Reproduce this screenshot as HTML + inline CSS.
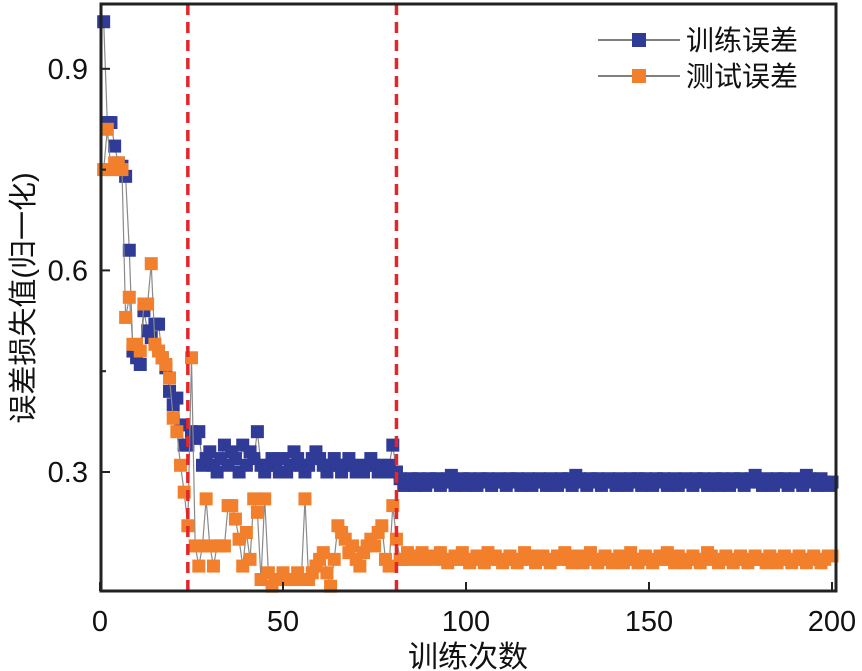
<!DOCTYPE html>
<html><head><meta charset="utf-8"><style>
html,body{margin:0;padding:0;background:#fff;}
svg{display:block;font-family:"Liberation Sans","Noto Sans CJK SC",sans-serif;}
</style></head><body>
<svg id="chart" width="862" height="671" viewBox="0 0 862 671" xmlns="http://www.w3.org/2000/svg"></svg>
<script>
const xTicks=[0,50,100,150,200];
const yTicks=[0.3,0.6,0.9];
const yMinorTicks=[0.45,0.75];
const stageLines=[24,81];
const trainErr=[0.97,0.82,0.82,0.785,0.76,0.755,0.74,0.63,0.48,0.47,
0.46,0.54,0.51,0.50,0.52,0.52,0.47,0.455,0.42,0.40,
0.41,0.37,0.34,0.34,0.36,0.35,0.36,0.31,0.32,0.33,
0.31,0.30,0.32,0.34,0.31,0.33,0.32,0.30,0.34,0.31,
0.33,0.32,0.36,0.31,0.30,0.31,0.32,0.31,0.30,0.32,
0.30,0.31,0.33,0.32,0.31,0.30,0.31,0.32,0.33,0.32,
0.31,0.30,0.31,0.32,0.31,0.30,0.31,0.32,0.31,0.30,
0.31,0.30,0.31,0.32,0.31,0.30,0.31,0.30,0.31,0.34,
0.30,0.29,0.28,0.285,0.29,0.28,0.29,0.285,0.28,0.29,
0.285,0.29,0.28,0.285,0.29,0.295,0.28,0.285,0.29,0.28,
0.29,0.285,0.28,0.29,0.285,0.29,0.28,0.285,0.29,0.285,
0.28,0.29,0.285,0.29,0.28,0.285,0.29,0.28,0.285,0.29,
0.285,0.28,0.29,0.285,0.28,0.29,0.285,0.29,0.28,0.295,
0.29,0.285,0.28,0.29,0.285,0.29,0.28,0.285,0.29,0.285,
0.28,0.29,0.285,0.28,0.29,0.285,0.29,0.28,0.29,0.285,
0.28,0.29,0.285,0.29,0.28,0.285,0.29,0.28,0.285,0.29,
0.285,0.28,0.29,0.285,0.29,0.28,0.285,0.29,0.28,0.29,
0.285,0.28,0.29,0.285,0.29,0.28,0.285,0.29,0.295,0.285,
0.28,0.29,0.285,0.28,0.29,0.285,0.29,0.28,0.285,0.29,
0.285,0.28,0.295,0.29,0.285,0.28,0.29,0.285,0.28,0.285];
const testErr=[0.75,0.81,0.75,0.76,0.76,0.75,0.53,0.56,0.49,0.49,
0.48,0.55,0.55,0.61,0.49,0.48,0.47,0.46,0.44,0.38,
0.36,0.31,0.27,0.22,0.47,0.19,0.16,0.19,0.26,0.19,
0.16,0.19,0.19,0.19,0.25,0.25,0.23,0.20,0.16,0.21,
0.17,0.26,0.24,0.14,0.26,0.15,0.13,0.14,0.14,0.15,
0.14,0.14,0.14,0.15,0.14,0.26,0.14,0.15,0.16,0.17,
0.18,0.15,0.13,0.17,0.22,0.21,0.20,0.18,0.19,0.17,
0.16,0.18,0.19,0.20,0.19,0.21,0.22,0.17,0.16,0.25,
0.20,0.17,0.17,0.18,0.17,0.175,0.17,0.18,0.17,0.175,
0.17,0.175,0.18,0.17,0.165,0.17,0.175,0.17,0.18,0.17,
0.165,0.17,0.175,0.17,0.165,0.18,0.17,0.175,0.17,0.165,
0.17,0.175,0.17,0.165,0.17,0.18,0.17,0.175,0.165,0.17,
0.175,0.17,0.165,0.17,0.175,0.17,0.18,0.17,0.165,0.175,
0.17,0.165,0.175,0.18,0.17,0.165,0.17,0.175,0.17,0.165,
0.17,0.175,0.165,0.17,0.18,0.17,0.165,0.17,0.175,0.17,
0.165,0.17,0.175,0.17,0.18,0.17,0.165,0.175,0.17,0.165,
0.17,0.175,0.17,0.165,0.17,0.18,0.175,0.17,0.165,0.17,
0.175,0.17,0.165,0.17,0.175,0.17,0.165,0.17,0.175,0.17,
0.17,0.165,0.175,0.17,0.165,0.17,0.175,0.17,0.165,0.17,
0.175,0.17,0.165,0.17,0.175,0.17,0.165,0.17,0.175,0.175];

const NS="http://www.w3.org/2000/svg";
const svg=document.getElementById('chart');
const L=101,R=836,T=4,B=591;
function xs(v){return 100+v*(832-100)/200;}
function ys(v){return 472-(v-0.3)*672;}
function mk(tag,attrs,parent){const e=document.createElementNS(NS,tag);for(const k in attrs)e.setAttribute(k,attrs[k]);(parent||svg).appendChild(e);return e;}

function drawSeries(arr,color,name){
  const g=mk('g',{});
  
  
  const pts=arr.map((v,i)=>xs(i+1).toFixed(1)+','+ys(v).toFixed(1)).join(' ');
  const pl=mk('polyline',{points:pts,fill:'none',stroke:'#8a8a8a','stroke-width':1.2},g);
  
  
  arr.forEach((v,i)=>{
    const r=mk('rect',{x:xs(i+1)-6.5,y:ys(v)-6.5,width:13,height:13,fill:color},g);
    
    
  });
}
drawSeries(trainErr,'#2f3b96','train-error');
drawSeries(testErr,'#f27f2c','test-error');

stageLines.forEach(v=>{
  const l=mk('line',{x1:xs(v),x2:xs(v),y1:T,y2:B,stroke:'#e3262a','stroke-width':3.5,'stroke-dasharray':'11,7'});
  
  
});

const box=mk('rect',{x:L,y:T,width:R-L,height:B-T,fill:'none',stroke:'#222','stroke-width':3});



xTicks.forEach(v=>{
  const t=mk('line',{x1:xs(v),x2:xs(v),y1:B,y2:B-9,stroke:'#222','stroke-width':2});
  
  
  const tx=mk('text',{x:xs(v),y:631,'font-size':29,'text-anchor':'middle',fill:'#111'});
  tx.textContent=v;
  
  
});
yTicks.forEach(v=>{
  const t=mk('line',{x1:L,x2:L+9,y1:ys(v),y2:ys(v),stroke:'#222','stroke-width':2});
  
  
  const tx=mk('text',{x:88,y:ys(v)+10,'font-size':29,'text-anchor':'end',fill:'#111'});
  tx.textContent=v.toFixed(1);
  
  
});
yMinorTicks.forEach(v=>{
  const t=mk('line',{x1:L,x2:L+5,y1:ys(v),y2:ys(v),stroke:'#222','stroke-width':2});
  
  
});
</script>
<svg style="position:absolute;left:0;top:0" width="862" height="671">
  <text x="468" y="667" font-size="30" text-anchor="middle" fill="#111" font-family="Liberation Sans, Noto Sans CJK SC, sans-serif">训练次数</text>
  <text transform="translate(33,298) rotate(-90)" font-size="29" text-anchor="middle" fill="#111" font-family="Liberation Sans, Noto Sans CJK SC, sans-serif">误差损失值(归一化)</text>
  <g>
    <g>
      <line x1="598" x2="680" y1="40" y2="40" stroke="#555" stroke-width="1.5"/>
      <rect x="632" y="33" width="14" height="14" fill="#2f3b96"/>
      <text x="686" y="50" font-size="28" fill="#111" font-family="Liberation Sans, Noto Sans CJK SC, sans-serif">训练误差</text>
    </g>
    <g>
      <line x1="598" x2="680" y1="76" y2="76" stroke="#555" stroke-width="1.5"/>
      <rect x="632" y="69" width="14" height="14" fill="#f27f2c"/>
      <text x="686" y="86" font-size="28" fill="#111" font-family="Liberation Sans, Noto Sans CJK SC, sans-serif">测试误差</text>
    </g>
  </g>
</svg>
</body></html>
